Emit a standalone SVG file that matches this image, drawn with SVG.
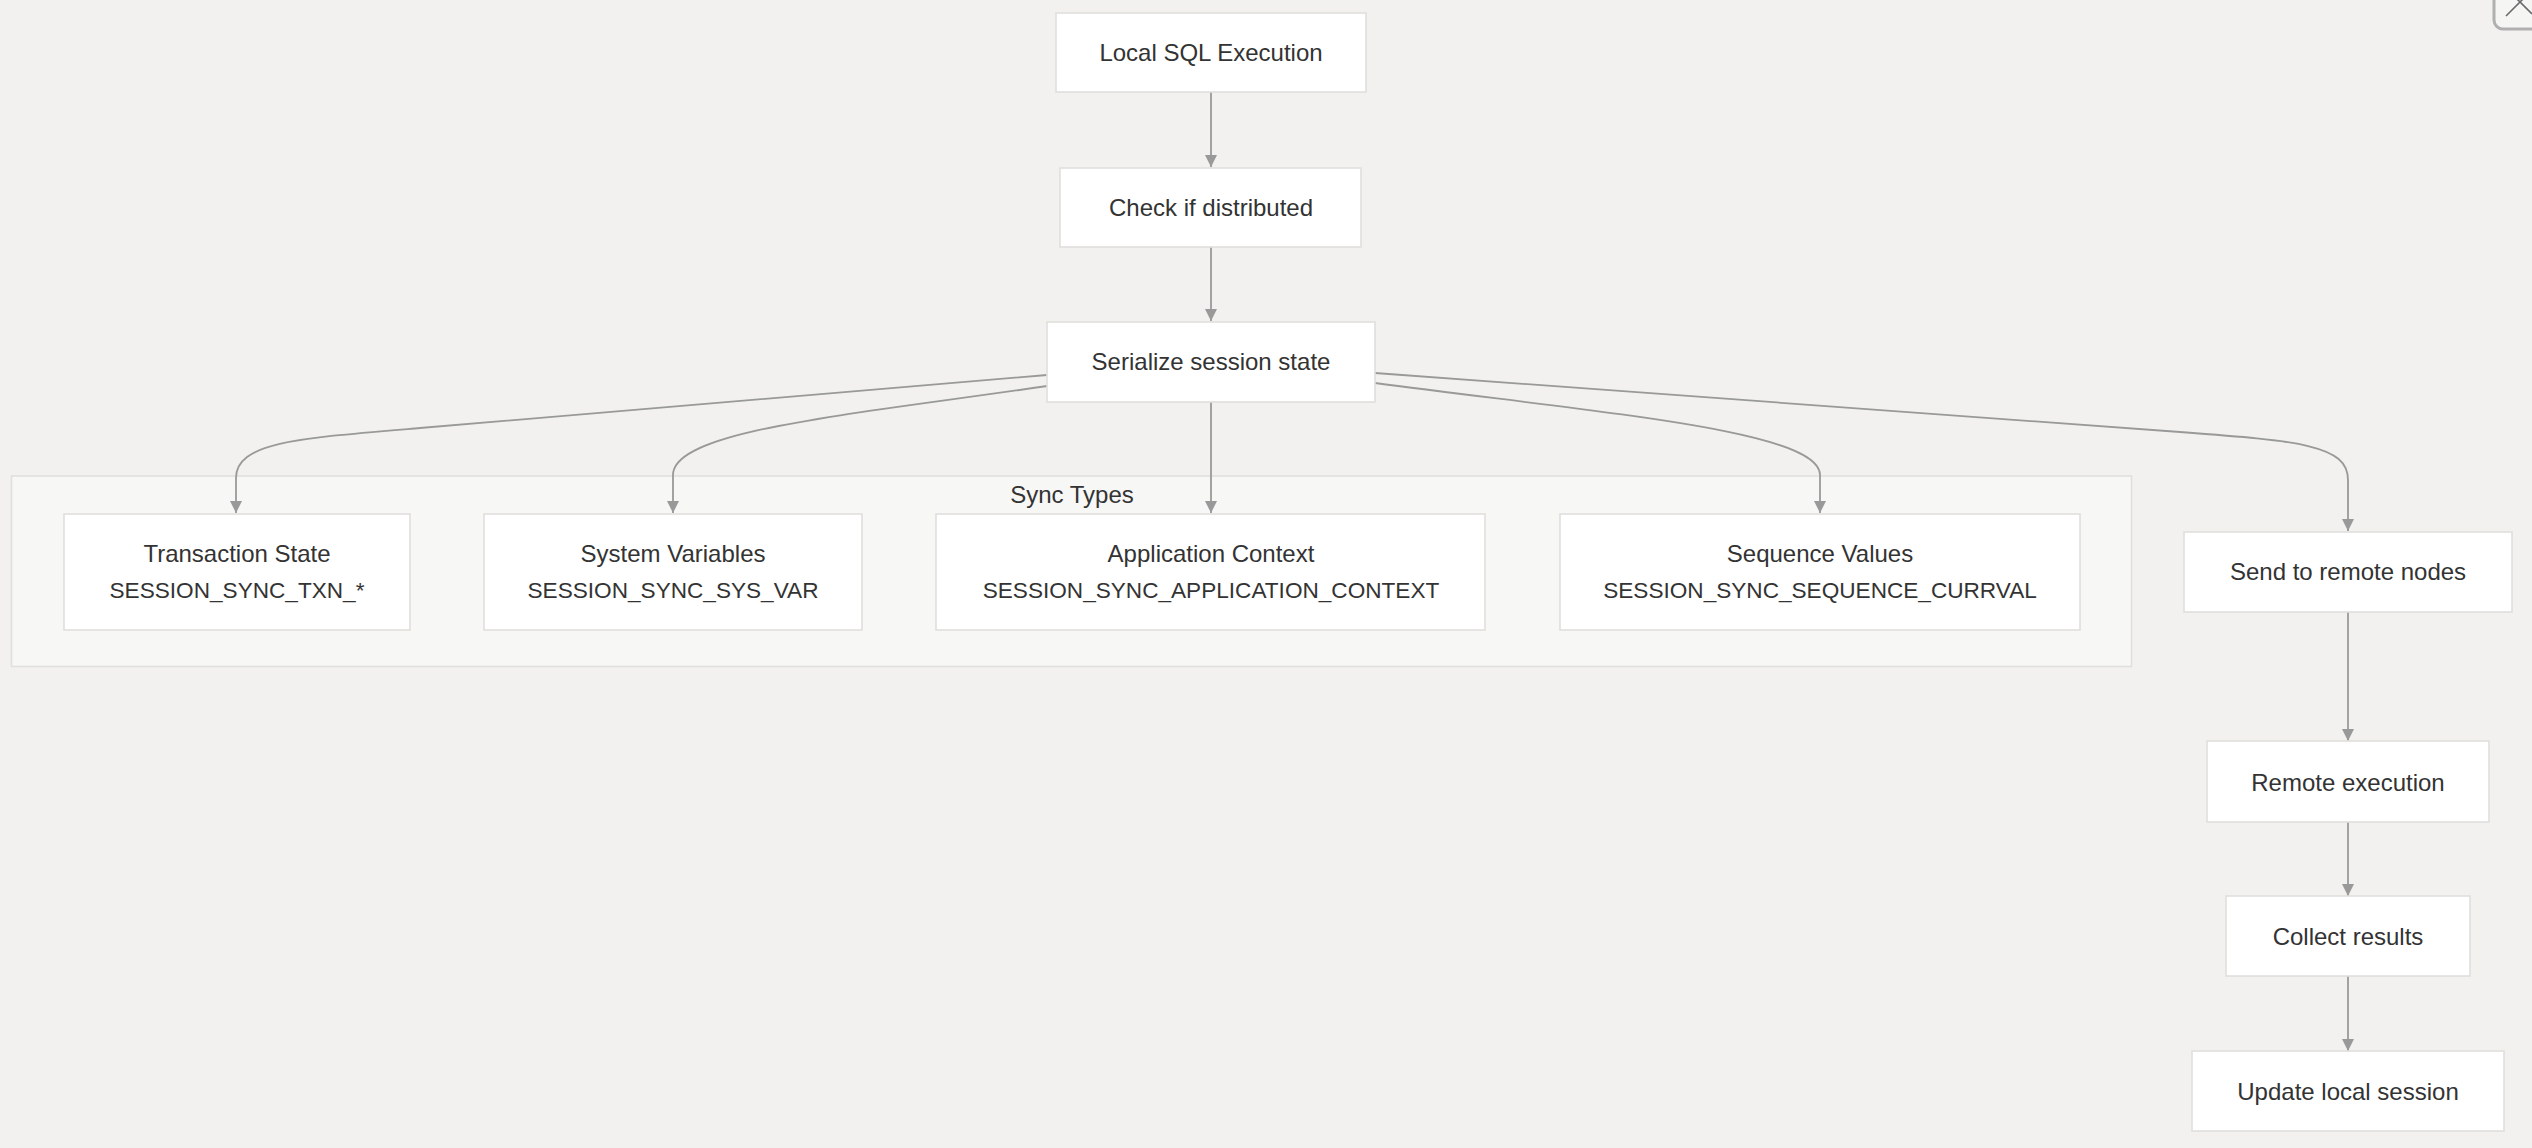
<svg xmlns="http://www.w3.org/2000/svg" width="2532" height="1148" viewBox="0 0 2532 1148">
<style>
.bg{fill:#f2f1ef}
.node rect{fill:#ffffff;stroke:#e0dfdd;stroke-width:1.6}
.cluster rect{fill:#f7f7f6;stroke:#e0dfdd;stroke-width:1.6}
text{font-family:"Liberation Sans",Arial,sans-serif;font-size:24px;fill:#333333;text-anchor:middle}
text.caps{font-size:22.6px}
.edge{fill:none;stroke:#999999;stroke-width:1.8;marker-end:url(#arrow)}
</style>
<defs>
<marker id="arrow" markerUnits="userSpaceOnUse" markerWidth="13" markerHeight="13" refX="12" refY="6" orient="auto">
<path d="M0,0 L12,6 L0,12 z" fill="#999999"/>
</marker>
</defs>
<rect class="bg" x="0" y="0" width="2532" height="1148"/>

<g id="cluster-sync-types" class="cluster">
<rect x="11.5" y="476" width="2120" height="190.5"/>
<text x="1072" y="503">Sync Types</text>
</g>

<g id="connectors">
<path class="edge" d="M1211,92 L1211,167"/>
<path class="edge" d="M1211,247 L1211,321"/>
<path class="edge" d="M1047,375 L420,428 C300,438 236,442 236,478 L236,513"/>
<path class="edge" d="M1047,386 C850,415 673,430 673,475 L673,513"/>
<path class="edge" d="M1211,402 L1211,513"/>
<path class="edge" d="M1375,383 C1600,413 1820,430 1820,475 L1820,513"/>
<path class="edge" d="M1375,373 L2180,432 C2300,441 2348,445 2348,480 L2348,531"/>
<path class="edge" d="M2348,612 L2348,741"/>
<path class="edge" d="M2348,822 L2348,896"/>
<path class="edge" d="M2348,976 L2348,1051"/>
</g>

<g id="local-sql" class="node">
<rect x="1056" y="13" width="310" height="79"/>
<text x="1211" y="61">Local SQL Execution</text>
</g>
<g id="check-distributed" class="node">
<rect x="1060" y="168" width="301" height="79"/>
<text x="1211" y="216">Check if distributed</text>
</g>
<g id="serialize" class="node">
<rect x="1047" y="322" width="328" height="80"/>
<text x="1211" y="370">Serialize session state</text>
</g>
<g id="txn-state" class="node">
<rect x="64" y="514" width="346" height="116"/>
<text x="237" y="562">Transaction State</text>
<text class="caps" x="237" y="598">SESSION_SYNC_TXN_*</text>
</g>
<g id="sys-var" class="node">
<rect x="484" y="514" width="378" height="116"/>
<text x="673" y="562">System Variables</text>
<text class="caps" x="673" y="598">SESSION_SYNC_SYS_VAR</text>
</g>
<g id="app-context" class="node">
<rect x="936" y="514" width="549" height="116"/>
<text x="1211" y="562">Application Context</text>
<text class="caps" x="1211" y="598">SESSION_SYNC_APPLICATION_CONTEXT</text>
</g>
<g id="sequence" class="node">
<rect x="1560" y="514" width="520" height="116"/>
<text x="1820" y="562">Sequence Values</text>
<text class="caps" x="1820" y="598">SESSION_SYNC_SEQUENCE_CURRVAL</text>
</g>
<g id="send-remote" class="node">
<rect x="2184" y="532" width="328" height="80"/>
<text x="2348" y="580">Send to remote nodes</text>
</g>
<g id="remote-exec" class="node">
<rect x="2207" y="741" width="282" height="81"/>
<text x="2348" y="791">Remote execution</text>
</g>
<g id="collect" class="node">
<rect x="2226" y="896" width="244" height="80"/>
<text x="2348" y="945">Collect results</text>
</g>
<g id="update-local" class="node">
<rect x="2192" y="1051" width="312" height="80"/>
<text x="2348" y="1100">Update local session</text>
</g>

<g id="close-button">
<rect x="2494" y="-20" width="60" height="49" rx="9" fill="#f5f5f4" stroke="#b0b0b0" stroke-width="3"/>
<path d="M2506,16 L2532,-10 M2506,-12 L2532,14" stroke="#6a6a6a" stroke-width="1.6" fill="none"/>
</g>
</svg>
